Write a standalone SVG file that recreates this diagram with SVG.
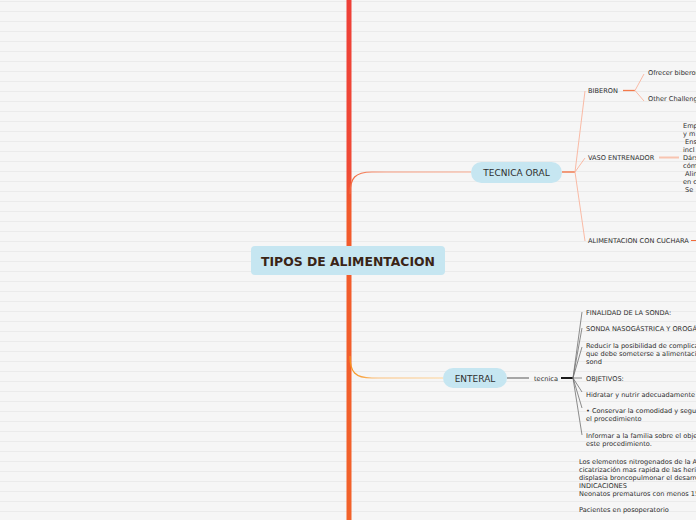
<svg xmlns="http://www.w3.org/2000/svg" width="696" height="520" viewBox="0 0 696 520">
<defs>
<pattern id="bg" width="696" height="10" patternUnits="userSpaceOnUse" y="0">
<rect width="696" height="10" fill="#f6f6f6"/>
<rect y="1" width="696" height="1" fill="#ebebeb"/>
</pattern>
<linearGradient id="trunk" x1="0" y1="0" x2="0" y2="520" gradientUnits="userSpaceOnUse">
<stop offset="0" stop-color="#ee4038"/>
<stop offset="0.33" stop-color="#f04a35"/>
<stop offset="0.4" stop-color="#f25a2c"/>
<stop offset="1" stop-color="#f2622a"/>
</linearGradient>
<linearGradient id="oral" x1="350" y1="0" x2="471" y2="0" gradientUnits="userSpaceOnUse">
<stop offset="0" stop-color="#f26a40"/>
<stop offset="0.3" stop-color="#f6997c"/>
<stop offset="1" stop-color="#f8ab90"/>
</linearGradient>
<linearGradient id="ent" x1="350" y1="0" x2="443" y2="0" gradientUnits="userSpaceOnUse">
<stop offset="0" stop-color="#f7931e"/>
<stop offset="0.3" stop-color="#fbbf7a"/>
<stop offset="1" stop-color="#fdd49a"/>
</linearGradient>
<style>
.t{font-family:"DejaVu Sans",Verdana,sans-serif;font-size:6.6px;fill:#2e2e2e}
.n{font-family:"DejaVu Sans",Verdana,sans-serif;font-size:9px;fill:#2e2e2e;text-anchor:middle}
.pill{fill:#c6e6f1}
.fs{stroke:#f9b39c;stroke-width:0.9;fill:none}
.fg{stroke:#707070;stroke-width:0.8;fill:none}
</style>
</defs>
<rect width="696" height="520" fill="url(#bg)"/>

<g id="connectors">
<rect x="346.5" y="0" width="5" height="520" fill="url(#trunk)"/>
<path d="M350 194 C350 178 355 172 372 172 L471 172" stroke="url(#oral)" stroke-width="1.2" fill="none"/>
<path d="M350 356 C350 372 355 378 372 378 L443 378" stroke="url(#ent)" stroke-width="1.2" fill="none"/>
<path d="M562 172 L575 172" stroke="#f26b3a" stroke-width="1.3"/>
<path class="fs" d="M575 172 L585 91 M575 172 L585 158 M575 172 L585 241"/>
<path d="M623 90.5 L635 90.5" stroke="#f47a4a" stroke-width="1.3"/>
<path class="fs" d="M635 90.5 L644 74 M635 90.5 L644 101"/>
<path d="M659 157.5 L679 157.5" stroke="#f8c4b0" stroke-width="2"/>
<path d="M691 240.5 L696 240.5" stroke="#f26b3a" stroke-width="1"/>
<path d="M507 378 L529 378" stroke="#a6a6a6" stroke-width="2"/>
<path d="M561 378 L573 378" stroke="#1a1a1a" stroke-width="2"/>
<path class="fg" d="M573 378 L582 312 M573 378 L582 328 M573 378 L582 347 M573 378 L582 378 M573 378 L582 392 M573 378 L582 408 M573 378 L582 435"/>
</g>

<g id="root">
<rect x="251" y="246" width="194" height="29" rx="4" fill="#c6e6f1"/>
<text x="348" y="265.5" font-family="'DejaVu Sans',Verdana,sans-serif" font-size="12.4" font-weight="bold" fill="#3a2416" text-anchor="middle">TIPOS DE ALIMENTACION</text>
</g>

<g id="tecnica-oral">
<rect class="pill" x="471" y="162" width="91" height="21" rx="10.5"/>
<text class="n" x="516.5" y="175.5">TECNICA ORAL</text>
</g>

<g id="biberon"><text class="t" x="588" y="93">BIBERON</text></g>
<g id="ofrecer"><text class="t" x="648" y="75">Ofrecer biberon</text></g>
<g id="other"><text class="t" x="648" y="101">Other Challenges</text></g>
<g id="vaso"><text class="t" x="588" y="160">VASO ENTRENADOR</text></g>
<g id="vaso-text">
<text class="t" x="683" y="128">Emp</text>
<text class="t" x="683" y="136">y m</text>
<text class="t" x="683" y="144" xml:space="preserve"> Ens</text>
<text class="t" x="683" y="152">incl</text>
<text class="t" x="683" y="160">Dárs</text>
<text class="t" x="683" y="168">cóm</text>
<text class="t" x="683" y="176" xml:space="preserve"> Alim</text>
<text class="t" x="683" y="184">en c</text>
<text class="t" x="683" y="192" xml:space="preserve"> Se</text>
</g>
<g id="cuchara"><text class="t" x="588" y="243">ALIMENTACION CON CUCHARA</text></g>

<g id="enteral">
<rect class="pill" x="443" y="368" width="64" height="20" rx="10"/>
<text class="n" x="475" y="381.5">ENTERAL</text>
</g>
<g id="tecnica"><text class="t" x="534" y="380.5">tecnica</text></g>
<g id="finalidad"><text class="t" x="586" y="315">FINALIDAD DE LA SONDA:</text></g>
<g id="sonda"><text class="t" x="586" y="331">SONDA NASOGÁSTRICA Y OROGÁSTRICA</text></g>
<g id="reducir">
<text class="t" x="586" y="348">Reducir la posibilidad de complicaciones</text>
<text class="t" x="586" y="356">que debe someterse a alimentación por</text>
<text class="t" x="586" y="364">sond</text>
</g>
<g id="objetivos"><text class="t" x="586" y="380.5">OBJETIVOS:</text></g>
<g id="hidratar"><text class="t" x="586" y="397">Hidratar y nutrir adecuadamente</text></g>
<g id="conservar">
<text class="t" x="586" y="413">• Conservar la comodidad y seguridad</text>
<text class="t" x="586" y="421">el procedimiento</text>
</g>
<g id="informar">
<text class="t" x="586" y="438">Informar a la familia sobre el objetivo</text>
<text class="t" x="586" y="446">este procedimiento.</text>
</g>
<g id="nota">
<text class="t" x="579" y="464">Los elementos nitrogenados de la A</text>
<text class="t" x="579" y="472">cicatrización mas rapida de las heridas</text>
<text class="t" x="579" y="480">displasia broncopulmonar el desarrollo</text>
<text class="t" x="579" y="488">INDICACIONES</text>
<text class="t" x="579" y="496">Neonatos prematuros con menos 15</text>
<text class="t" x="579" y="512">Pacientes en posoperatorio</text>
</g>
</svg>
